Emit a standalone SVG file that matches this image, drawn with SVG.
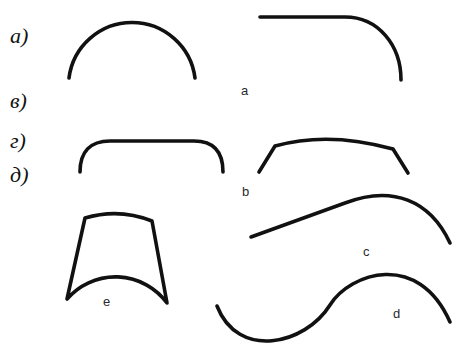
<svg xmlns="http://www.w3.org/2000/svg" width="456" height="346" viewBox="0 0 456 346">
<style>
.s{fill:none;stroke:#111;stroke-width:3.6;stroke-linecap:round;stroke-linejoin:round}
.lab{font-family:"Liberation Serif",serif;font-style:italic;font-size:22px;fill:#111}
.sm{font-family:"Liberation Sans",Arial,sans-serif;font-size:13px;fill:#2a2a2a}
</style>
<rect width="456" height="346" fill="#fff"/>
<g id="labels">
<text class="lab" x="10" y="43">а)</text>
<text class="lab" x="10" y="108">в)</text>
<text class="lab" x="10" y="148">г)</text>
<text class="lab" x="10" y="182">д)</text>
</g>
<g id="shape-a1"><path class="s" d="M69 78 A63.5 63.5 0 0 1 195 78"/></g>
<g id="shape-a2"><path class="s" d="M260 17 H345 C378 17 401 45 401 80"/></g>
<g id="label-a"><text class="sm" x="241" y="95">a</text></g>
<g id="shape-b1"><path class="s" d="M80 172 C80 152 90 141 110 141 H194 C214 141 223 152 223 172"/></g>
<g id="shape-b2"><path class="s" d="M259 172 L275 146 Q328 131 393 149 L408 173"/></g>
<g id="label-b"><text class="sm" x="242" y="196">b</text></g>
<g id="shape-c"><path class="s" d="M251 237 L345 203 C392 185 430 200 450 243"/></g>
<g id="label-c"><text class="sm" x="363" y="256">c</text></g>
<g id="shape-d"><path class="s" d="M217 306 C238 360 305 345 330 305 C350 273 418 250 450 322"/></g>
<g id="label-d"><text class="sm" x="393" y="318">d</text></g>
<g id="shape-e"><path class="s" d="M85 218 A102 102 0 0 1 152 221 L167 303 A64 64 0 0 0 67 299 Z"/></g>
<g id="label-e"><text class="sm" x="103" y="306">e</text></g>
</svg>
